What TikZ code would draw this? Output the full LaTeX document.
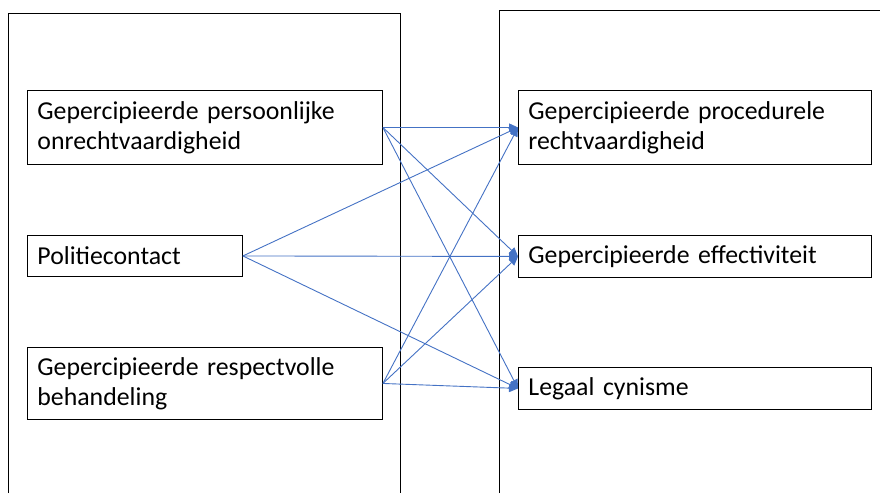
\documentclass[tikz,border=0pt]{standalone}
\usepackage{fontspec}
\setmainfont{Carlito}
\usetikzlibrary{arrows.meta}
\definecolor{linkblue}{HTML}{4472C4}
\begin{document}
\begin{tikzpicture}[x=1pt,y=-1pt,
  box/.style={draw,line width=0.9pt,anchor=north west,align=left,inner xsep=10pt,inner ysep=0pt,font=\fontsize{25.8}{30}\selectfont},
  link/.style={draw=linkblue,line width=0.9pt,-{Triangle[length=9pt,width=8pt]}}]
\pgfmathsetmacro{\kwl}{335}
\pgfmathsetmacro{\kwr}{333}
\useasboundingbox(0,0)rectangle(880,493);
%frames
\draw[line width=0.9pt](8,493)--(8,13)--(400,13)--(400,493);
\draw[line width=0.9pt](499,493)--(499,10)--(880,10);
%predictors
\node[box,text width=\kwl pt,minimum height=74pt](pers)at(27,90){Gepercipieerde persoonlijke\\onrechtvaardigheid};
\node[box,text width=195pt,minimum height=41pt](pol)at(27,235){Politiecontact};
\node[box,text width=\kwl pt,minimum height=72pt](resp)at(27,347){Gepercipieerde respectvolle\\behandeling};
%outcomes
\node[box,text width=\kwr pt,minimum height=74pt](proc)at(518,90){Gepercipieerde procedurele\\rechtvaardigheid};
\node[box,text width=\kwr pt,minimum height=42pt](eff)at(518,235){Gepercipieerde effectiviteit};
\node[box,text width=\kwr pt,minimum height=42pt](cyn)at(518,367){Legaal cynisme};
%arrows
\foreach \a in {pers,pol,resp}
  \foreach \b in {proc,eff,cyn}
    \draw[link](\a.east)--(\b.west);
\end{tikzpicture}
\end{document}
